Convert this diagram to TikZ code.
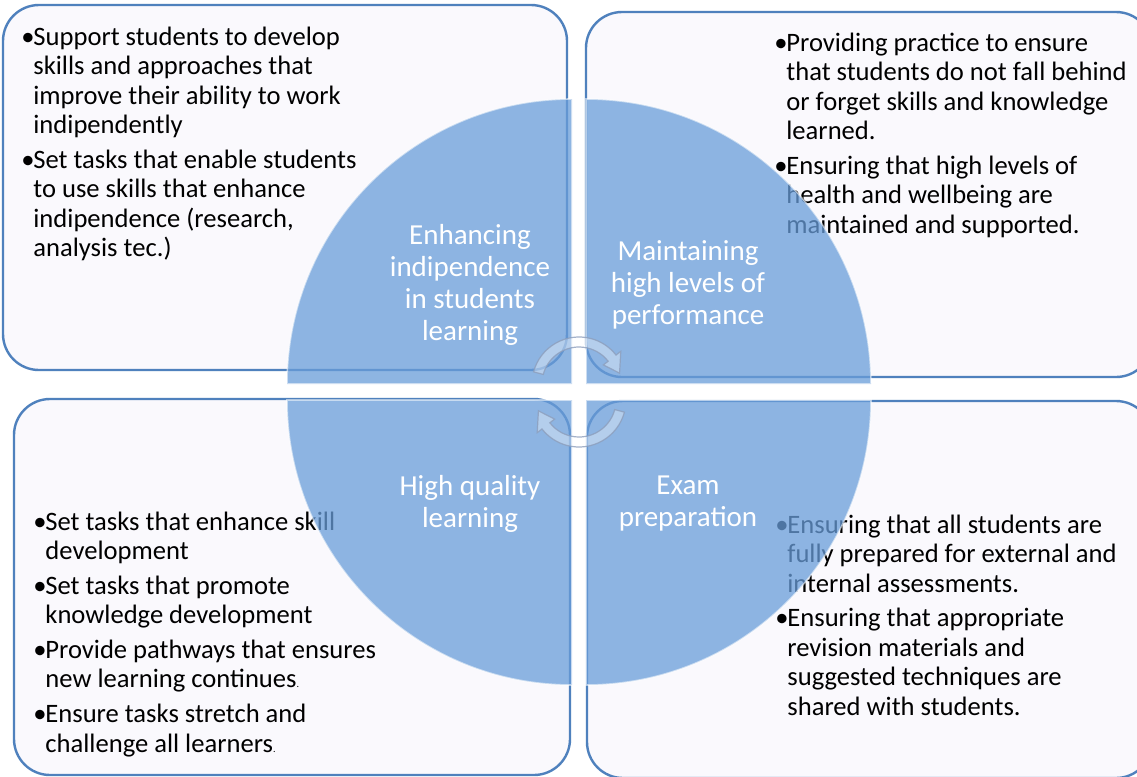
\documentclass[tikz,border=0pt]{standalone}
\usepackage{fontspec}
\setmainfont{Carlito}

\definecolor{panelline}{RGB}{79,129,189}
\definecolor{panelfill}{RGB}{250,249,253}
\definecolor{pieblue}{RGB}{105,157,217}
\definecolor{cycline}{RGB}{140,158,188}

\begin{document}
\begin{tikzpicture}[
        x=0.5pt, y=-0.5pt,
        panel/.style={draw=panelline, line width=1.2pt, fill=panelfill, rounded corners=18pt},
        pie/.style={fill=pieblue, fill opacity=0.75, draw=white, draw opacity=0.55, line width=0.8pt},
        items/.style={anchor=base west, inner sep=0pt, font=\fontsize{13.3}{14.75}\selectfont},
        stage/.style={align=center, text=white, inner sep=0pt, font=\fontsize{14.5}{16}\selectfont},
        cyc/.style={fill=white, fill opacity=0.35, draw=cycline, draw opacity=0.8, line width=0.6pt}
    ]
    \useasboundingbox[fill=white] (0,0) rectangle (1137,777);
    \clip (0,0) rectangle (1137,777);

    % Outer panels
    \draw[panel] (3,5) rectangle (567,370);
    \draw[panel] (586,12) rectangle (1152,377);
    \draw[panel] (14,399) rectangle (570,775);
    \draw[panel] (587,401) rectangle (1152,778);

    % Bullet lists
    \node[items] (tl-list) at (21,45) {\begin{tabular}[t]{@{}p{6pt}@{}l@{}}
        \textbullet & Support students to develop\\
                    & skills and approaches that\\
                    & improve their ability to work\\
                    & indipendently\\[2.6pt]
        \textbullet & Set tasks that enable students\\
                    & to use skills that enhance\\
                    & indipendence (research,\\
                    & analysis tec.)
    \end{tabular}};
    \node[items] (tr-list) at (774,51) {\begin{tabular}[t]{@{}p{6pt}@{}l@{}}
        \textbullet & Providing practice to ensure\\
                    & that students do not fall behind\\
                    & or forget skills and knowledge\\
                    & learned.\\[2.6pt]
        \textbullet & Ensuring that high levels of\\
                    & health and wellbeing are\\
                    & maintained and supported.
    \end{tabular}};
    \node[items] (bl-list) at (33,530) {\begin{tabular}[t]{@{}p{6pt}@{}l@{}}
        \textbullet & Set tasks that enhance skill\\
                    & development\\[2.6pt]
        \textbullet & Set tasks that promote\\
                    & knowledge development\\[2.6pt]
        \textbullet & Provide pathways that ensures\\
                    & new learning continues{\tiny.}\\[2.6pt]
        \textbullet & Ensure tasks stretch and\\
                    & challenge all learners{\tiny.}
    \end{tabular}};
    \node[items] (br-list) at (775,533) {\begin{tabular}[t]{@{}p{6pt}@{}l@{}}
        \textbullet & Ensuring that all students are\\
                    & fully prepared for external and\\
                    & internal assessments.\\[2.6pt]
        \textbullet & Ensuring that appropriate\\
                    & revision materials and\\
                    & suggested techniques are\\
                    & shared with students.
    \end{tabular}};

    % Quarter discs
    \foreach \cx/\cy/\a in {572/384/180, 586/384/270, 586/400/0, 572/400/90}
        \draw[pie] (\cx,\cy) -- ++(\a:285) arc[start angle=\a, delta angle=90, radius=285] -- cycle;

    % Stage titles
    \node[stage] (enhance) at (470,285) {Enhancing\\indipendence\\in students\\learning};
    \node[stage] (maintain) at (688,285) {Maintaining\\high levels of\\performance};
    \node[stage] (quality) at (470,504) {High quality\\learning};
    \node[stage] (exam) at (688,504) {Exam\\preparation};

    % Cycle arrows in the middle
    \foreach \cx/\cy/\s/\b/\e in {579/384/195/322/345, 579/400/15/142/165}
        \draw[cyc, shift={(\cx,\cy)}] (\s:47) arc[start angle=\s, end angle=\b, radius=47]
            -- (\b:53) -- (\e:42) -- (\b:31) -- (\b:37)
            arc[start angle=\b, end angle=\s, radius=37] -- cycle;
\end{tikzpicture}
\end{document}
